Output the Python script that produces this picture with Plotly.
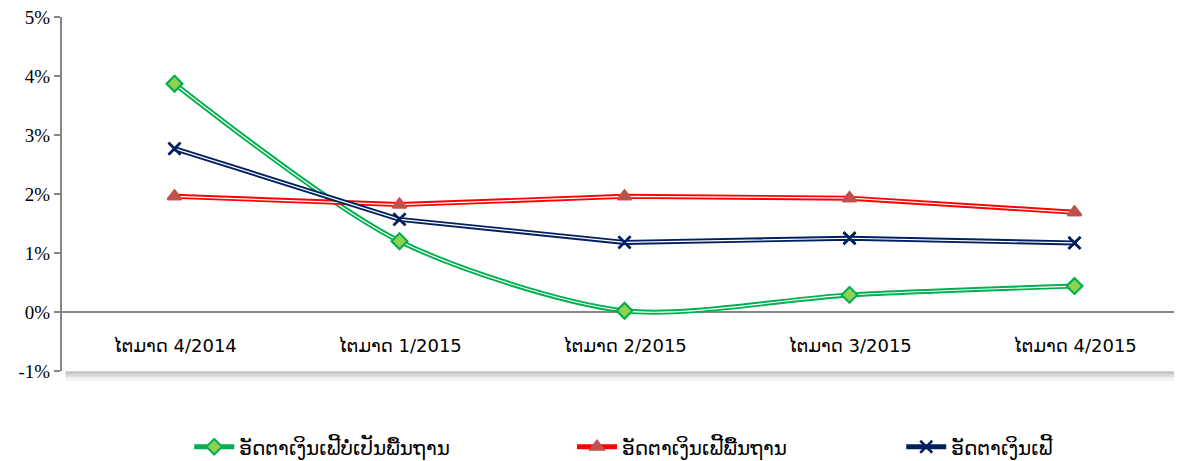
import plotly.graph_objects as go

quarters = ['ໄຕມາດ 4/2014', 'ໄຕມາດ 1/2015', 'ໄຕມາດ 2/2015', 'ໄຕມາດ 3/2015', 'ໄຕມາດ 4/2015']
non_core = [3.87, 1.20, 0.02, 0.29, 0.44]
core = [1.96, 1.82, 1.96, 1.93, 1.69]
headline = [2.77, 1.57, 1.18, 1.25, 1.17]

names = ['ອັດຕາເງິນເຟີ້ບໍ່ເປັນພື້ນຖານ', 'ອັດຕາເງິນເຟີ້ພື້ນຖານ', 'ອັດຕາເງິນເຟີ້']
lao_font = 'DejaVu Sans'

fig = go.Figure()

series = [
    (non_core, names[0], '#00B050', 'diamond', '#92D050', '#00B050', 'spline', 'legend'),
    (core, names[1], '#FF0000', 'triangle-up', '#C0504D', '#C0504D', 'linear', 'legend2'),
    (headline, names[2], '#002060', 'x-thin', '#002060', '#002060', 'linear', 'legend3'),
]

for vals, name, col, sym, fill, edge, shape, leg in series:
    mk = dict(symbol=sym, size=12, color=fill,
              line=dict(color=edge, width=2 if sym != 'x-thin' else 2.5))
    # thick coloured line (shows in legend)
    fig.add_trace(go.Scatter(
        x=quarters, y=vals, name=name, mode='lines+markers', legend=leg,
        line=dict(color=col, width=5, shape=shape, smoothing=0.8), marker=mk))
    # thin white stripe for the double-line look
    fig.add_trace(go.Scatter(
        x=quarters, y=vals, mode='lines', showlegend=False, hoverinfo='skip',
        line=dict(color='white', width=1.2, shape=shape, smoothing=0.8)))
    # markers on top
    fig.add_trace(go.Scatter(
        x=quarters, y=vals, mode='markers', showlegend=False, hoverinfo='skip', marker=mk))

# category labels sit just under the zero line
for q in quarters:
    fig.add_annotation(x=q, y=-0.57, xref='x', yref='y', text=q, showarrow=False,
                       font=dict(family=lao_font, size=18, color='#000000'))

# soft shadow under the plot area
for i, op in enumerate([0.35, 0.22, 0.12, 0.05]):
    fig.add_shape(type='line', xref='paper', yref='paper', x0=0.003, x1=1.0,
                  y0=-0.004 - i * 0.007, y1=-0.004 - i * 0.007,
                  line=dict(color='rgba(80,80,80,%s)' % op, width=2.5))

legend_style = dict(orientation='h', yanchor='middle', y=-0.214, xanchor='left',
                    font=dict(family=lao_font, size=20, color='#000000'),
                    bgcolor='rgba(0,0,0,0)', itemwidth=40)

# page body adds an 8px margin, so the figure is sized to fit the window
fig.update_layout(
    width=1174, height=453,
    margin=dict(l=54, r=4, t=9, b=90, autoexpand=False),
    plot_bgcolor='white', paper_bgcolor='white',
    showlegend=True,
    legend=dict(legend_style, x=0.114),
    legend2=dict(legend_style, x=0.457),
    legend3=dict(legend_style, x=0.752),
    xaxis=dict(type='category', range=[-0.5, 4.46], showticklabels=False,
               showline=False, showgrid=False, zeroline=False, ticks=''),
    yaxis=dict(range=[-1, 5],
               tickvals=[-1, 0, 1, 2, 3, 4, 5],
               ticktext=['-1%', '0%', '1%', '2%', '3%', '4%', '5%'],
               ticklabeloverflow='allow',
               showgrid=False, showline=True, linecolor='#868686', linewidth=2,
               ticks='outside', ticklen=6, tickcolor='#868686', tickwidth=2,
               zeroline=True, zerolinecolor='#868686', zerolinewidth=2,
               tickfont=dict(family='Liberation Serif', size=19, color='#000000')),
)

fig.write_html("out.html")
